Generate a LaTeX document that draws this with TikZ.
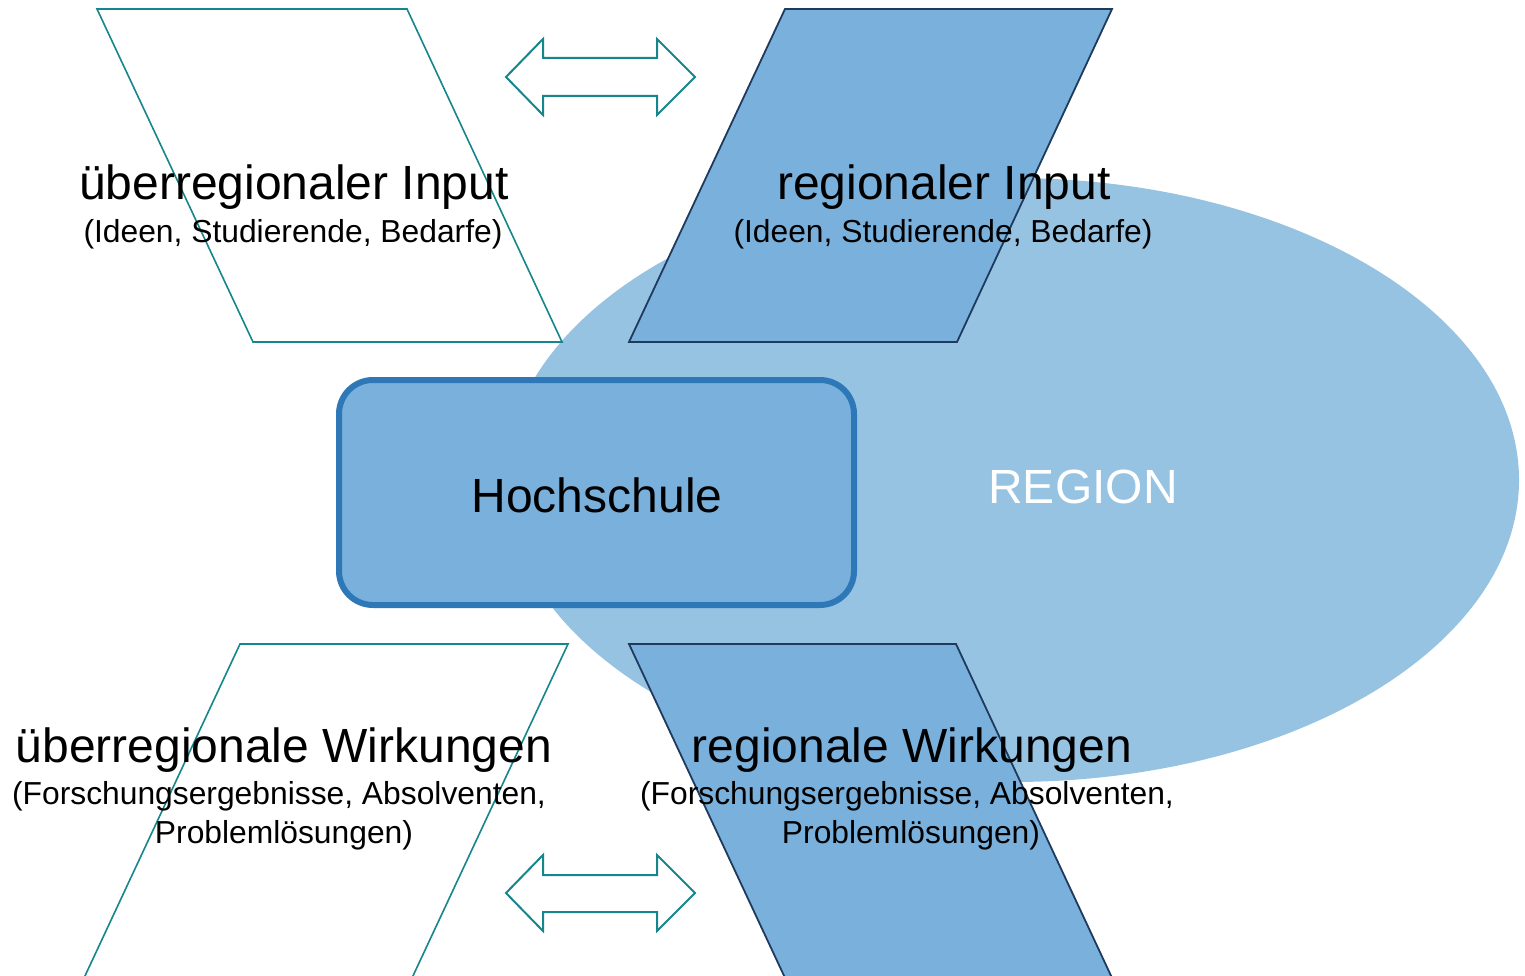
\documentclass[tikz,border=0pt]{standalone}
\usepackage{fontspec}
\setmainfont{Liberation Sans}
\definecolor{arrowteal}{RGB}{22,134,140}
\definecolor{boxblue}{RGB}{122,176,220}
\definecolor{boxedge}{RGB}{46,120,184}
\definecolor{regionblue}{RGB}{151,195,227}
\definecolor{navyedge}{RGB}{30,58,92}
\tikzset{
  outline/.style={draw=arrowteal, line width=1.6pt, fill=white},
  filledpara/.style={draw=navyedge, line width=1.8pt, fill=boxblue, line join=miter},
  dblarrow/.style={draw=arrowteal, line width=2pt, fill=white, line join=miter},
  title/.style={anchor=base, font=\fontsize{48}{57}\selectfont, inner sep=0pt},
  subtitle/.style={anchor=base, font=\fontsize{31.8}{38}\selectfont, inner sep=0pt},
}
\begin{document}
\begin{tikzpicture}[x=1pt,y=-1pt]
\useasboundingbox (0,0) rectangle (1525,976);
\clip (0,0) rectangle (1525,976);

% the region in the background
\fill[regionblue] (1012,480) ellipse [x radius=507, y radius=302];

% input and output parallelograms
\draw[outline] (97,9) -- (407,9) -- (562,342) -- (253,342) -- cycle;
\draw[filledpara] (785,9) -- (1112,9) -- (957,342) -- (629,342) -- cycle;
\draw[outline] (240,644) -- (568,644) -- (412,978) -- (84,978) -- cycle;
\draw[filledpara] (629,644) -- (956,644) -- (1113,980) -- (786,980) -- cycle;

% exchange arrows
\draw[dblarrow] (506,77) -- (543,39) -- (543,58) -- (657,58) -- (657,39) -- (695,77)
  -- (657,115) -- (657,96) -- (543,96) -- (543,115) -- cycle;
\draw[dblarrow] (506,893) -- (543,855) -- (543,875) -- (657,875) -- (657,855) -- (695,893)
  -- (657,931) -- (657,912) -- (543,912) -- (543,931) -- cycle;

% university
\draw[draw=boxedge, fill=boxblue, line width=6pt, rounded corners=34pt]
  (339,380) rectangle (854,605);
\node[title] (hs) at (597,512) {Hochschule};
\node[title, text=white] (region) at (1083,503) {REGION};

% labels
\node[title] (uri) at (294,200) {überregionaler Input};
\node[subtitle] (uris) at (293,243) {(Ideen, Studierende, Bedarfe)};
\node[title] (ri) at (944,200) {regionaler Input};
\node[subtitle] (ris) at (943,243) {(Ideen, Studierende, Bedarfe)};

\node[title] (urw) at (284,762) {überregionale Wirkungen};
\node[subtitle] (urws1) at (279,804) {(Forschungsergebnisse, Absolventen,};
\node[subtitle] (urws2) at (284,843) {Problemlösungen)};
\node[title] (rw) at (912,762) {regionale Wirkungen};
\node[subtitle] (rws1) at (907,804) {(Forschungsergebnisse, Absolventen,};
\node[subtitle] (rws2) at (911,843) {Problemlösungen)};
\end{tikzpicture}
\end{document}
